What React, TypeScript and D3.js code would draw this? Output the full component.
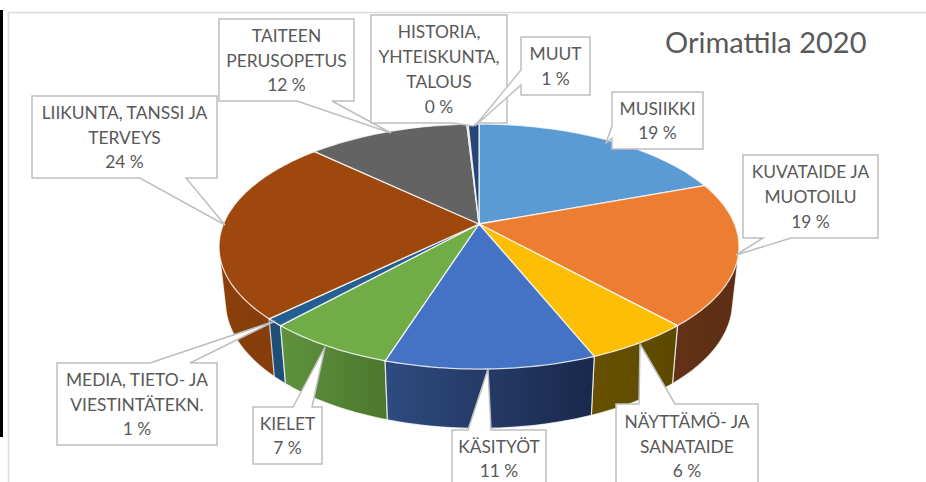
import React from "react";
import * as d3 from "d3";

const categories = [
  "MUSIIKKI",
  "KUVATAIDE JA MUOTOILU",
  "NÄYTTÄMÖ- JA SANATAIDE",
  "KÄSITYÖT",
  "KIELET",
  "MEDIA, TIETO- JA VIESTINTÄTEKN.",
  "LIIKUNTA, TANSSI JA TERVEYS",
  "TAITEEN PERUSOPETUS",
  "HISTORIA, YHTEISKUNTA, TALOUS",
  "MUUT",
];
const values = [19.4, 18.9, 5.6, 11.0, 6.8, 1.0, 24.4, 12.0, 0.1, 0.8];
const percentLabels = ["19 %", "19 %", "6 %", "11 %", "7 %", "1 %", "24 %", "12 %", "0 %", "1 %"];
const labelLines = [
  ["MUSIIKKI"],
  ["KUVATAIDE JA", "MUOTOILU"],
  ["NÄYTTÄMÖ- JA", "SANATAIDE"],
  ["KÄSITYÖT"],
  ["KIELET"],
  ["MEDIA, TIETO- JA", "VIESTINTÄTEKN."],
  ["LIIKUNTA, TANSSI JA", "TERVEYS"],
  ["TAITEEN", "PERUSOPETUS"],
  ["HISTORIA,", "YHTEISKUNTA,", "TALOUS"],
  ["MUUT"],
];

const topColors = ["#5b9bd5", "#ed7d31", "#fdbe03", "#4472c4", "#70ad47", "#255e91", "#9e480e", "#636363", "#997300", "#264478"];
const sideFrom = ["#3a6a96", "#643216", "#675100", "#2f4b80", "#5f923d", "#1f4e79", "#8a3f0b", "#444444", "#665000", "#1b2f54"];
const sideTo = ["#3a6a96", "#5c2e14", "#5c4900", "#19284b", "#4c772d", "#1f4e79", "#843c0c", "#444444", "#665000", "#1b2f54"];

// callout boxes: [left, top, right, bottom] and the pointer polygon points
type Callout = { box: number[]; side: string; pointer: number[][] };
const callouts: Callout[] = [
  { box: [612, 92, 703, 149], side: "left", pointer: [[612, 126], [606, 143], [612, 138]] },
  { box: [743, 155, 878, 238], side: "bottom", pointer: [[791, 238], [736, 255], [763, 238]] },
  { box: [616, 404, 758, 488], side: "top", pointer: [[639, 404], [640, 344], [675, 404]] },
  { box: [452, 430, 546, 487], side: "top", pointer: [[468, 430], [488, 369], [491, 430]] },
  { box: [253, 407, 322, 464], side: "top", pointer: [[293, 407], [325, 347], [312, 407]] },
  { box: [57, 363, 217, 445], side: "top", pointer: [[150, 363], [275, 321], [190, 363]] },
  { box: [32, 96, 217, 178], side: "bottom", pointer: [[186, 178], [225, 225], [140, 178]] },
  { box: [219, 19, 354, 101], side: "bottom", pointer: [[332, 101], [391, 133], [297, 101]] },
  { box: [371, 15, 507, 123], side: "bottom", pointer: [[477, 123], [473, 126], [453, 123]] },
  { box: [521, 37, 590, 95], side: "left", pointer: [[521, 70], [475, 126], [521, 85]] },
];

// perspective of the tilted pie: centre is not the middle of the ellipse
const cx = 479;
const cy = 224;
const radiusX = 255.6;
const radiusY = 118.4;
const tilt = 0.1837;
const depth = 55;
const bottomScaleX = 0.975;
const bottomScaleY = 1.03;

const angleScale = d3.scaleLinear().domain([0, 1]);

function projectTop(angle: number): [number, number] {
  const u = Math.sin(angle);
  const v = -Math.cos(angle);
  const w = 1 - tilt * v;
  return [cx + (radiusX * u) / w, cy + (radiusY * v) / w];
}

function projectBottom(angle: number): [number, number] {
  const [x, y] = projectTop(angle);
  return [cx + (x - cx) * bottomScaleX, cy + (y - cy) * bottomScaleY + depth];
}

function arcAngles(start: number, end: number) {
  const n = Math.max(2, Math.ceil((end - start) / 0.02));
  angleScale.range([start, end]);
  return d3.range(n + 1).map((i) => angleScale(i / n));
}

const line = d3.line();

export default function App() {
  const slices = d3.pie<number>().sort(null)(values);
  const font = "Lato, 'Open Sans', sans-serif";

  // walls painted back to front, so the near ones stay on top
  const wallOrder = d3.range(slices.length).sort((a, b) =>
    d3.descending(
      Math.cos((slices[a].startAngle + slices[a].endAngle) / 2),
      Math.cos((slices[b].startAngle + slices[b].endAngle) / 2)
    )
  );

  return (
    <svg
      width={926}
      height={482}
      style={{ position: "absolute", left: 0, top: 0, background: "#fff" }}
    >
      <defs>
        {slices.map((s, i) => (
          <linearGradient key={i} id={`side-${i}`} x1="0" x2="1" y1="0" y2="0">
            <stop offset="0" stopColor={sideFrom[i]} />
            <stop offset="1" stopColor={sideTo[i]} />
          </linearGradient>
        ))}
      </defs>

      {/* page edge and frame */}
      <rect x={0} y={10} width={3} height={427} fill="#000" />
      <path d="M8.5,482 V12.5 H926" fill="none" stroke="#dcdcdc" strokeWidth={1.5} />

      {/* side walls */}
      {wallOrder.map((i) => {
        const s = slices[i];
        const angles = arcAngles(s.startAngle, s.endAngle);
        const hull = d3.polygonHull([...angles.map(projectTop), ...angles.map(projectBottom)]);
        return (
          <path
            key={categories[i]}
            d={line(hull as [number, number][]) + "Z"}
            fill={`url(#side-${i})`}
            stroke="#ffffff"
            strokeOpacity={0.75}
            strokeWidth={1.2}
          />
        );
      })}

      {/* top faces */}
      {slices.map((s, i) => {
        const rim = arcAngles(s.startAngle, s.endAngle).map(projectTop);
        return (
          <path
            key={categories[i]}
            d={line([[cx, cy], ...rim]) + "Z"}
            fill={topColors[i]}
            stroke="#ffffff"
            strokeOpacity={0.8}
            strokeWidth={1.3}
            strokeLinejoin="round"
          />
        );
      })}

      {/* callouts */}
      {callouts.map((c, i) => {
        const [l, t, r, b] = c.box;
        const lines = [...labelLines[i], percentLabels[i]];
        const mid = (t + b) / 2;
        const pts = c.pointer;
        let outline: number[][];
        if (c.side === "left") outline = [[l, b], [r, b], [r, t], [l, t], ...pts, [l, b]];
        else if (c.side === "top") outline = [[l, t], ...pts, [r, t], [r, b], [l, b], [l, t]];
        else outline = [[l, t], [r, t], [r, b], ...pts, [l, b], [l, t]];
        return (
          <g key={categories[i]}>
            <path
              d={line(outline as [number, number][]) + "Z"}
              fill="#fff"
              stroke="#bfbfbf"
              strokeWidth={1.5}
            />
            <text
              textAnchor="middle"
              fontFamily={font}
              fontSize={17.4}
              fill="#595959"
            >
              {lines.map((t2, j) => (
                <tspan
                  key={j}
                  x={(l + r) / 2}
                  y={mid + 6.5 + (j - (lines.length - 1) / 2) * 24.7}
                >
                  {t2}
                </tspan>
              ))}
            </text>
          </g>
        );
      })}

      <text x={665} y={53} fontFamily={font} fontSize={29} fill="#595959">
        Orimattila 2020
      </text>
    </svg>
  );
}
